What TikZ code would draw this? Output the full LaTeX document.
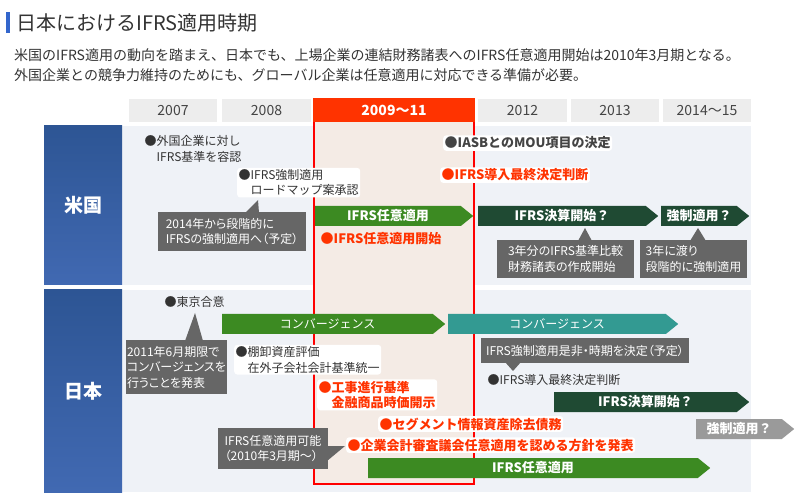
\documentclass[tikz,border=0pt]{standalone}
\usepackage{fontspec}
\setmainfont{Noto Sans CJK JP}
\newfontfamily\notefont[RawFeature=+palt]{Noto Sans CJK JP}
\usetikzlibrary{shapes.symbols}

\definecolor{titleblue}{HTML}{3366CC}
\definecolor{txtgray}{HTML}{333333}
\definecolor{yearbg}{HTML}{EDEDED}
\definecolor{yeartxt}{HTML}{444444}
\definecolor{hotred}{HTML}{FF3300}
\definecolor{framered}{HTML}{FF0000}
\definecolor{framebg}{HTML}{F4EBE5}
\definecolor{rowbg}{HTML}{EFF2F7}
\definecolor{labtop}{HTML}{2D5594}
\definecolor{labbot}{HTML}{4169B2}
\definecolor{optgreen}{HTML}{3C8A22}
\definecolor{closegreen}{HTML}{1F4A33}
\definecolor{convteal}{HTML}{339A92}
\definecolor{notegray}{HTML}{666666}
\definecolor{fadegray}{HTML}{9A9A9A}

\begin{document}
\begin{tikzpicture}[x=1pt, y=-1pt,
    yearbox/.style={fill=yearbg, text=yeartxt, minimum height=23pt, inner sep=0pt,
      font=\fontsize{14}{14}\selectfont},
    rowlab/.style={top color=labtop, bottom color=labbot, text=white, minimum width=78pt,
      inner sep=0pt, font=\bfseries\fontsize{19}{19}\selectfont},
    tbar/.style={shape=signal, signal to=east, signal pointer angle=78, minimum height=20pt,
      inner sep=0pt, text=white, anchor=west, font=\bfseries\fontsize{13}{13}\selectfont},
    convbar/.style={tbar, font=\fontsize{12}{12}\selectfont},
    note/.style={fill=notegray, text=white, align=left, inner sep=0pt,
      font=\notefont\fontsize{12}{15.5}\selectfont},
    evt/.style={anchor=base west, inner sep=1.5pt, align=left, text=txtgray,
      font=\fontsize{12}{15.5}\selectfont},
    evtb/.style={evt, text=yeartxt, font=\bfseries\fontsize{13}{15.5}\selectfont},
    hot/.style={evtb, text=hotred},
    halo/.style={fill=white, rounded corners=3pt}
  ]
  \useasboundingbox (0,0) rectangle (800,502);

  % Title and lead text
  \fill[titleblue] (6,12) rectangle (10,33);
  \node[anchor=west, inner sep=0pt, text=txtgray, font=\fontsize{20}{20}\selectfont] (title) at (16,22.5) {日本におけるIFRS適用時期};
  \node[anchor=west, inner sep=0pt, text=txtgray, font=\fontsize{14}{14}\selectfont] (lead1) at (14,55) {米国のIFRS適用の動向を踏まえ、日本でも、上場企業の連結財務諸表へのIFRS任意適用開始は2010年3月期となる。};
  \node[anchor=west, inner sep=0pt, text=txtgray, font=\fontsize{14}{14}\selectfont] (lead2) at (14,75) {外国企業との競争力維持のためにも、グローバル企業は任意適用に対応できる準備が必要。};

  % Rows
  \fill[rowbg] (122,126) rectangle (751,285);
  \fill[rowbg] (122,290) rectangle (751,492);
  \node[rowlab, minimum height=159pt] (us) at (83,205.5) {米国};
  \node[rowlab, minimum height=202pt] (jp) at (83,391) {日本};

  % Years
  \foreach \cx/\w/\yr/\nm in {173/88/2007/y07, 266.5/89/2008/y08, 522.5/89/2012/y12, 615/88/2013/y13, 707/88/2014～15/y14}
    \node[yearbox, minimum width=\w pt] (\nm) at (\cx,110.5) {\yr};

  % Current period
  \draw[framered, line width=2pt, fill=framebg] (314,99) rectangle (474,484);
  \node[fill=hotred, text=white, minimum width=162pt, minimum height=24pt, inner sep=0pt,
    font=\bfseries\fontsize{14}{14}\selectfont] (y09) at (394,110) {2009～11};

  % US bars
  \node[tbar, fill=optgreen, minimum width=158pt] (usopt) at (315,216) {IFRS任意適用};
  \node[tbar, fill=closegreen, minimum width=180pt] (usclose) at (478,216) {IFRS決算開始？};
  \node[tbar, fill=closegreen, minimum width=88pt] (usforce) at (661,216) {強制適用？};

  % Japan bars
  \node[convbar, fill=optgreen, minimum width=223pt] (jpconv) at (222,324) {コンバージェンス};
  \node[convbar, fill=convteal, minimum width=230pt] (jpconv2) at (448,324) {コンバージェンス};
  \node[tbar, fill=closegreen, minimum width=195pt] (jpclose) at (554,402) {IFRS決算開始？};
  \node[tbar, fill=fadegray, minimum width=98pt] (jpforce) at (696,429) {強制適用？};
  \node[tbar, fill=optgreen, minimum width=342pt] (jpopt) at (368,468) {IFRS任意適用};

  % Notes
  \node[note, minimum width=148pt, minimum height=39pt] (n1) at (232,231.5) {2014年から段階的に\\IFRSの強制適用へ（予定）};
  \fill[notegray] (245,213) -- (258,200) -- (259,213) -- cycle;
  \node[note, minimum width=137pt, minimum height=38pt] (n2) at (565.5,259) {3年分のIFRS基準比較\\財務諸表の作成開始};
  \fill[notegray] (578,241) -- (585,228) -- (592,241) -- cycle;
  \node[note, minimum width=107pt, minimum height=38pt] (n3) at (693.5,259) {3年に渡り\\段階的に強制適用};
  \fill[notegray] (690,241) -- (698,228) -- (706,241) -- cycle;
  \node[note, minimum width=101pt, minimum height=54pt] (n4) at (176.5,367) {2011年6月期限で\\コンバージェンスを\\行うことを発表};
  \fill[notegray] (185,341) -- (195,313) -- (203,341) -- cycle;
  \node[note, minimum width=208pt, minimum height=25pt] (n5) at (585,350.5) {IFRS強制適用是非・時期を決定（予定）};
  \fill[notegray] (505,362) -- (513,371) -- (521,362) -- cycle;
  \node[note, minimum width=110pt, minimum height=41pt] (n6) at (273,448.5) {IFRS任意適用可能\\（2010年3月期～）};
  \fill[notegray] (327,446) -- (345,446) -- (327,461) -- cycle;

  % US events
  \node[evt] (ev1) at (143,161.5) {●外国企業に対し\\\phantom{●}IFRS基準を容認};
  \node[evt, halo] (ev2) at (237,195) {●IFRS強制適用\\\phantom{●}ロードマップ案承認};
  \node[hot] (ev3) at (319,244) {●IFRS任意適用開始};
  \node[evtb, halo] (ev4) at (443,148) {●IASBとのMOU項目の決定};
  \node[hot, halo] (ev5) at (440,180) {●IFRS導入最終決定判断};

  % Japan events
  \node[evt] (ev6) at (163,306.5) {●東京合意};
  \node[evt, halo] (ev7) at (234,372) {●棚卸資産評価\\\phantom{●}在外子会社会計基準統一};
  \node[hot, halo] (ev8) at (317,407.5) {●工事進行基準\\\phantom{●}金融商品時価開示};
  \node[evt] (ev9) at (486,384.5) {●IFRS導入最終決定判断};
  \node[hot, halo] (ev10) at (378,429) {●セグメント情報資産除去債務};
  \node[hot, halo] (ev11) at (346,450) {●企業会計審査議会任意適用を認める方針を発表};

\end{tikzpicture}
\end{document}
